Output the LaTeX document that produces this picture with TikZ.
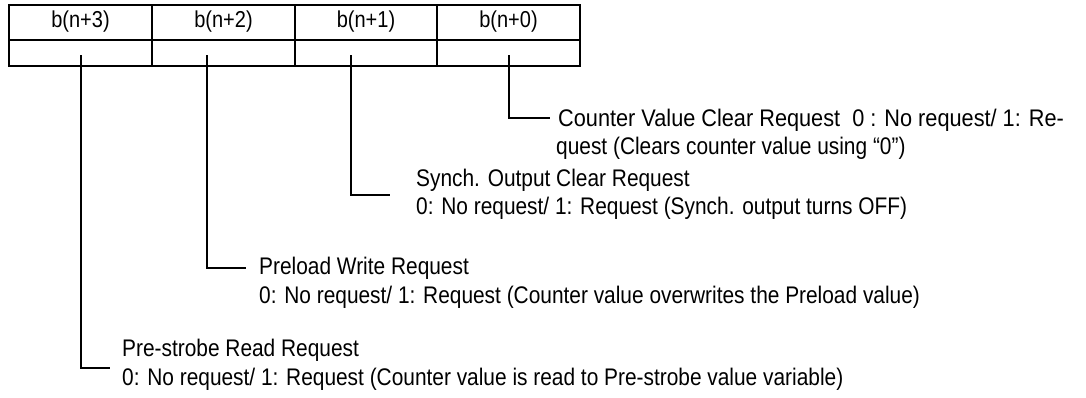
\documentclass[tikz,border=0pt]{standalone}
\usepackage{graphicx}
\usepackage{fontspec}
\setmainfont{Liberation Sans}[FakeStretch=0.87]
\begin{document}
\begin{tikzpicture}[x=1pt,y=-1pt,
  lbl/.style={anchor=base west,inner sep=0pt,font=\fontsize{24}{28}\selectfont},
  hdr/.style={inner sep=0pt,font=\fontsize{23}{27}\selectfont},
  conn/.style={line width=2.4pt}]
\useasboundingbox (0,0) rectangle (1086,397);
% table
\draw[line width=2.2pt] (9,40) -- (580,40);
\foreach \x in {152,295,437} \draw[line width=2.2pt] (\x,5) -- (\x,66);
\draw[line width=2.8pt] (9,5) rectangle (580,66);
\node[hdr] (h3) at (80.5,22) {b(n+3)};
\node[hdr] (h2) at (223.5,22) {b(n+2)};
\node[hdr] (h1) at (366,22) {b(n+1)};
\node[hdr] (h0) at (508.5,22) {b(n+0)};
% bit cells anchors
\coordinate (b3) at (81,55);
\coordinate (b2) at (207,55);
\coordinate (b1) at (351,55);
\coordinate (b0) at (509,55);
\coordinate (e3) at (110,368);
\coordinate (e2) at (246,268);
\coordinate (e1) at (390,195);
\coordinate (e0) at (550,118);
\draw[conn] (b3) |- (e3);
\draw[conn] (b2) |- (e2);
\draw[conn] (b1) |- (e1);
\draw[conn] (b0) |- (e0);
% labels
\node[lbl] (t0a) at (558,126) {\scalebox{1.04}[1]{Counter Value Clear Request\ \ 0 : No request/ 1: Re-}};
\node[lbl] (t0b) at (556,154) {quest (Clears counter value using “0”)};
\node[lbl] (t1a) at (416,186) {Synch. Output Clear Request};
\node[lbl] (t1b) at (416,214) {0: No request/ 1: Request (Synch. output turns OFF)};
\node[lbl] (t2a) at (259,274) {Preload Write Request};
\node[lbl] (t2b) at (259,303) {0: No request/ 1: Request (Counter value overwrites the Preload value)};
\node[lbl] (t3a) at (122,356) {Pre-strobe Read Request};
\node[lbl] (t3b) at (122,385) {0: No request/ 1: Request (Counter value is read to Pre-strobe value variable)};
\end{tikzpicture}
\end{document}
